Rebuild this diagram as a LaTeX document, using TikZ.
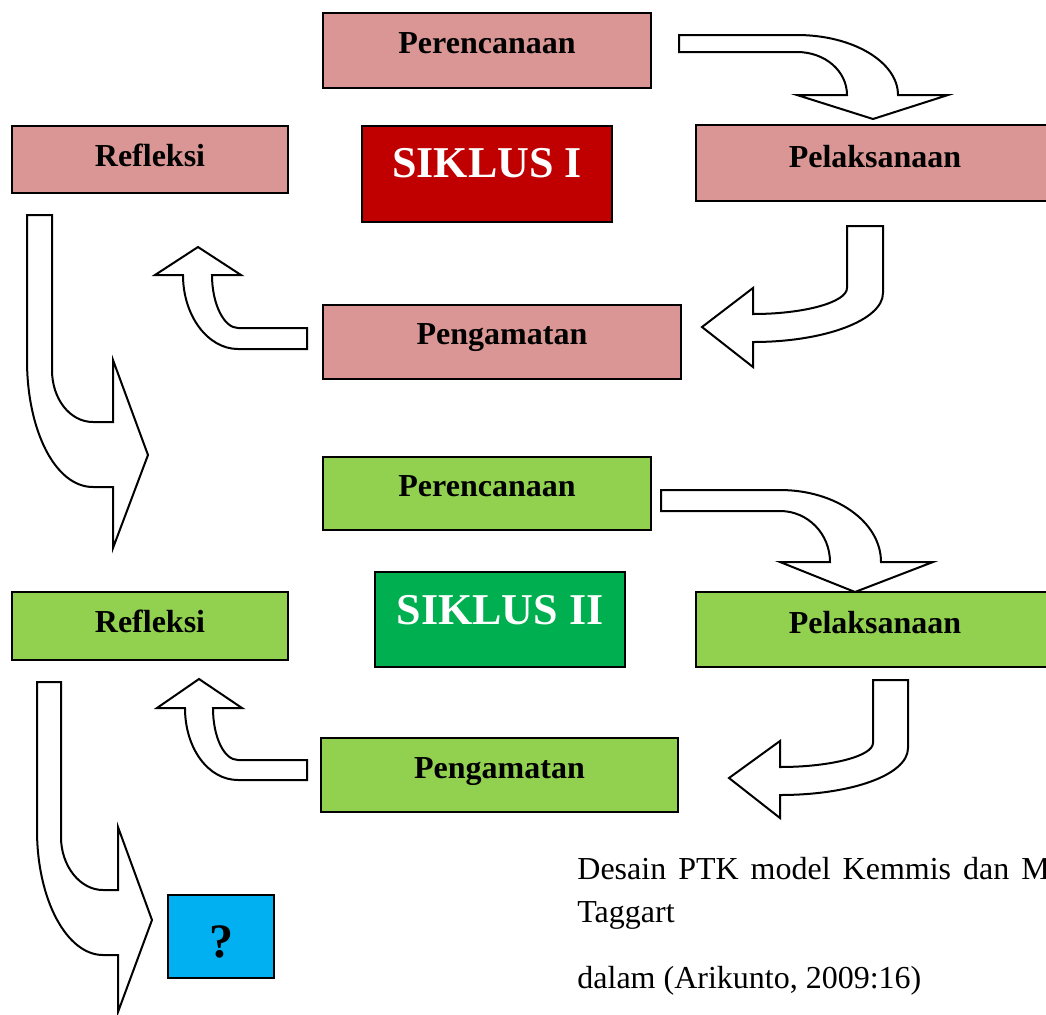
\documentclass[tikz,border=0pt]{standalone}
\usepackage{fontspec}
\setmainfont{Liberation Serif}
\definecolor{pinkc}{HTML}{D99694}
\definecolor{redc}{HTML}{C00000}
\definecolor{greenc}{HTML}{92D050}
\definecolor{dgreenc}{HTML}{00B050}
\definecolor{bluec}{HTML}{00B0F0}
\begin{document}
\begin{tikzpicture}[x=0.5pt, y=-0.5pt,
    % Colors
    cpink/.style={fill=pinkc},
    cgreen/.style={fill=greenc},
    % Styles
    stage/.style={draw, line width=0.75pt, inner sep=0pt, align=center,
                  font=\bfseries\fontsize{16}{19}\selectfont},
    title/.style={draw, line width=0.75pt, inner sep=0pt, minimum width=125pt,
                  text=white, font=\bfseries\fontsize{22}{26}\selectfont},
    blockarrow/.style={draw, fill=white, line width=1pt, line join=miter},
    captext/.style={anchor=base west, inner sep=0pt, font=\fontsize{16}{19}\selectfont},
  ]
  \useasboundingbox (0,0) rectangle (1046,1014);
  \clip (0,0) rectangle (1046,1014);

  % Cycle I arrows
  \draw[blockarrow] (679,35) -- (797,35) .. controls (853,35) and (898,62) .. (898,95)
    -- (948,95) -- (873,119) -- (797,95) -- (847,95)
    .. controls (847,71) and (825,52) .. (797,52) -- (679,52) -- cycle;
  \draw[blockarrow] (847,226) -- (883,226) -- (883,293) .. controls (883,320) and (825,342) .. (753,342)
    -- (753,367) -- (702,327) -- (753,288) -- (753,314)
    .. controls (805,314) and (847,302) .. (847,288) -- cycle;
  \draw[blockarrow] (307,328) -- (238,328) .. controls (224,328) and (212,304) .. (212,275)
    -- (241,275) -- (198,247) -- (155,275) -- (183,275)
    .. controls (183,316) and (208,349) .. (238,349) -- (307,349) -- cycle;
  \draw[blockarrow] (27,215) -- (52,215) -- (52,370) .. controls (52,399) and (70,422) .. (93,422)
    -- (113,422) -- (113,360) -- (148,455) -- (113,548) -- (113,487) -- (93,487)
    .. controls (55,487) and (27,430) .. (27,360) -- cycle;

  % Cycle II arrows
  \draw[blockarrow] (661,490) -- (780,490) .. controls (836,490) and (881,522) .. (881,562)
    -- (933,562) -- (855,592) -- (780,562) -- (830,562)
    .. controls (830,534) and (808,511) .. (780,511) -- (661,511) -- cycle;
  \draw[blockarrow] (873,680) -- (908,680) -- (908,748) .. controls (908,775) and (851,795) .. (780,795)
    -- (780,818) -- (729,778) -- (780,741) -- (780,767)
    .. controls (831,767) and (873,756) .. (873,743) -- cycle;
  \draw[blockarrow] (307,760) -- (238,760) .. controls (224,760) and (213,737) .. (213,708)
    -- (242,708) -- (199,679) -- (157,708) -- (185,708)
    .. controls (185,748) and (208,780) .. (238,780) -- (307,780) -- cycle;
  \draw[blockarrow] (37,682) -- (61,682) -- (61,837) .. controls (61,866) and (80,890) .. (103,890)
    -- (118,890) -- (118,827) -- (152,920) -- (118,1012) -- (118,955) -- (103,955)
    .. controls (67,955) and (37,900) .. (37,830) -- cycle;

  % Cycle I
  \node[stage, cpink, minimum width=164pt, text height=20pt, text depth=17.5pt] (plan1) at (487,50.5) {Perencanaan};
  \node[title, fill=redc, text height=25.5pt, text depth=22.5pt] (cycle1) at (487,174) {SIKLUS I};
  \node[stage, cpink, minimum width=138pt, text height=20pt, text depth=13.5pt] (refl1) at (150,159.5) {Refleksi};
  \node[stage, cpink, minimum width=179pt, text height=21pt, text depth=17pt] (act1) at (875,163) {Pelaksanaan};
  \node[stage, cpink, minimum width=179pt, text height=19.5pt, text depth=17.5pt] (obs1) at (502,342) {Pengamatan};

  % Cycle II
  \node[stage, cgreen, minimum width=164pt, text height=19.5pt, text depth=17pt] (plan2) at (487,493.5) {Perencanaan};
  \node[title, fill=dgreenc, text height=26pt, text depth=21.5pt] (cycle2) at (500,619.5) {SIKLUS II};
  \node[stage, cgreen, minimum width=138pt, text height=20pt, text depth=14pt] (refl2) at (150,626) {Refleksi};
  \node[stage, cgreen, minimum width=179pt, text height=20.5pt, text depth=17pt] (act2) at (875,629.5) {Pelaksanaan};
  \node[stage, cgreen, minimum width=178.5pt, text height=20pt, text depth=17pt] (obs2) at (499.5,775) {Pengamatan};

  % Next cycle
  \node[stage, fill=bluec, minimum width=53pt, text height=31pt, text depth=10.5pt,
        font=\bfseries\fontsize{24}{28}\selectfont] (next) at (221,936.5) {?};

  % Caption
  \node[captext] (cap1) at (577,879) {\spaceskip=6pt Desain PTK model Kemmis dan Mc};
  \node[captext] (cap2) at (577,922) {Taggart};
  \node[captext] (cap3) at (577,988) {dalam (Arikunto, 2009:16)};

\end{tikzpicture}
\end{document}
